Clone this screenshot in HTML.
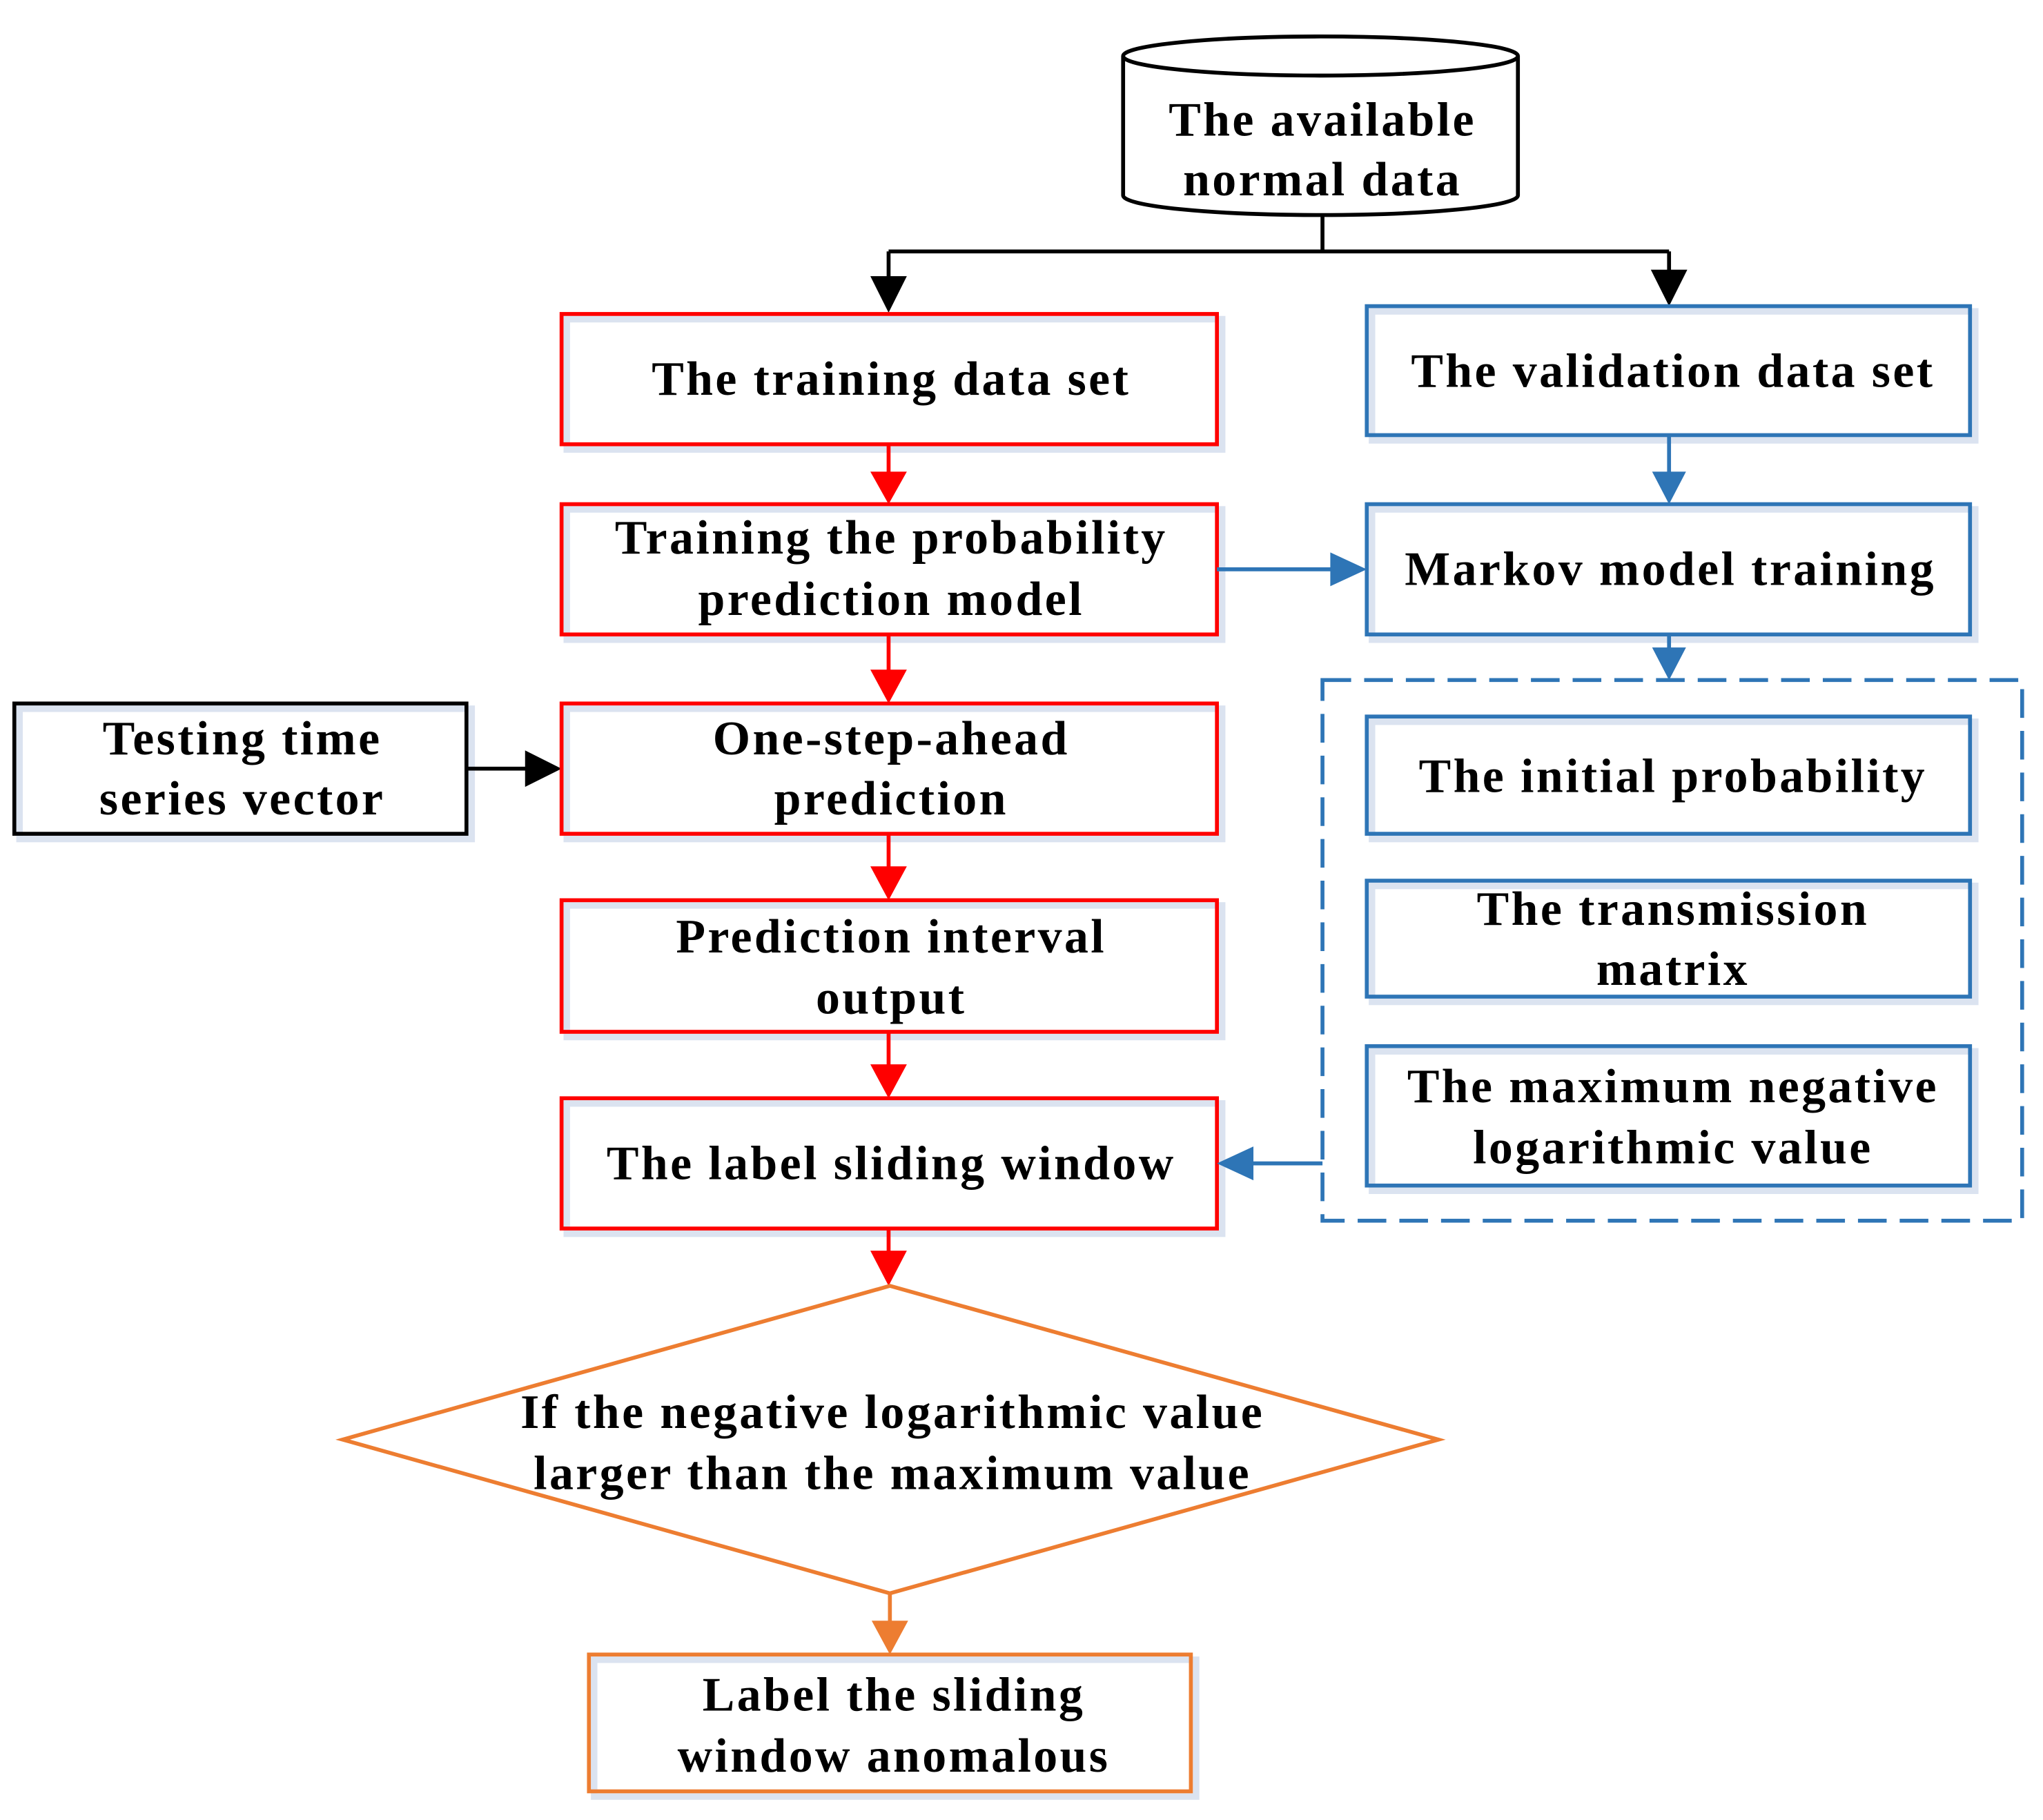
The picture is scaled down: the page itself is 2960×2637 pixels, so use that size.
<!DOCTYPE html>
<html><head><meta charset="utf-8"><style>
html,body{margin:0;padding:0;background:#fff}
svg{display:block}
text{font-family:"Liberation Serif",serif;font-weight:bold;font-size:37px;fill:#000;text-anchor:middle;letter-spacing:1.8px}
</style></head><body>
<svg width="2960" height="2637" viewBox="0 0 1568 1397" preserveAspectRatio="none" xmlns="http://www.w3.org/2000/svg">
<g fill="none" stroke-width="3">
<g stroke="#dbe3f0" stroke-width="5">
<rect x="435" y="245" width="503" height="100"/><rect x="1053" y="239" width="463" height="99"/>
<rect x="435" y="391" width="503" height="100"/><rect x="1053" y="391" width="463" height="100"/>
<rect x="435" y="544" width="503" height="100"/><rect x="15" y="544" width="347" height="100"/>
<rect x="435" y="695" width="503" height="101"/><rect x="435" y="847" width="503" height="100"/>
<rect x="1053" y="554" width="463" height="90"/><rect x="1053" y="680" width="463" height="89"/>
<rect x="1053" y="807" width="463" height="107"/><rect x="456" y="1274" width="462" height="105"/>
</g>
<path d="M862,43 L862,150 A151,15 0 0 0 1165,150 L1165,43" stroke="#000" fill="#fff"/>
<ellipse cx="1013.5" cy="43" rx="151.5" ry="15" stroke="#000" fill="#fff"/>
<path d="M1015,165 V193 M682,193 H1281 M682,193 V215 M1281,193 V210 M358,590 H410" stroke="#000"/>
<path d="M668,212 L696,212 L682,240z M1267,207 L1295,207 L1281,235z M403,576 L403,604 L431,590z" fill="#000" stroke="none"/>
<g stroke="#ff0000">
<rect x="431" y="241" width="503" height="100"/><rect x="431" y="387" width="503" height="100"/>
<rect x="431" y="540" width="503" height="100"/><rect x="431" y="691" width="503" height="101"/>
<rect x="431" y="843" width="503" height="100"/>
</g>
<rect x="11" y="540" width="347" height="100" stroke="#000"/>
<g stroke="#2e75b6">
<rect x="1049" y="235" width="463" height="99"/><rect x="1049" y="387" width="463" height="100"/>
<rect x="1049" y="550" width="463" height="90"/><rect x="1049" y="676" width="463" height="89"/>
<rect x="1049" y="803" width="463" height="107"/>
<rect x="1015" y="522" width="537" height="415" stroke-dasharray="22,10"/>
<path d="M1281,334 V365 M934,437 H1025 M1281,487 V505 M1015,893 H958"/>
</g>
<path d="M1268,362 L1294,362 L1281,387z M1021,424 L1021,450 L1049,437z M1268,497 L1294,497 L1281,522z M962,880 L962,906 L934,893z" fill="#2e75b6" stroke="none"/>
<g stroke="#ff0000"><path d="M682,341 V365 M682,487 V518 M682,640 V669 M682,792 V821 M682,943 V965"/></g>
<path d="M668,362 L696,362 L682,387z M668,514 L696,514 L682,540z M668,665 L696,665 L682,691z M668,817 L696,817 L682,843z M668,960 L696,960 L682,987z" fill="#ff0000" stroke="none"/>
<g stroke="#ed7d31">
<path d="M683,987 L1104,1105 L683,1223 L263,1105z"/>
<path d="M683,1223 V1248"/>
<rect x="452" y="1270" width="462" height="105"/>
</g>
<path d="M669,1244 L697,1244 L683,1270z" fill="#ed7d31" stroke="none"/>
</g>
<text x="1015" y="104">The available</text><text x="1015" y="150">normal data</text>
<text x="684" y="303">The training data set</text>
<text x="1284" y="297">The validation  data set</text>
<text x="684" y="425">Training the probability</text><text x="684" y="472">prediction model</text>
<text x="1282" y="449">Markov model training</text>
<text x="684" y="579">One-step-ahead</text><text x="684" y="625">prediction</text>
<text x="186" y="579">Testing time</text><text x="186" y="625">series vector</text>
<text x="684" y="731">Prediction interval</text><text x="684" y="778">output</text>
<text x="684" y="905">The label sliding window</text>
<text x="1284" y="608">The initial probability</text>
<text x="1284" y="710">The transmission</text><text x="1284" y="756">matrix</text>
<text x="1284" y="846">The maximum negative</text><text x="1284" y="893">logarithmic value</text>
<text x="685" y="1096">If the negative logarithmic value</text><text x="685" y="1143">larger than the maximum value</text>
<text x="686" y="1313">Label the sliding</text><text x="686" y="1360">window anomalous</text>
</svg>
</body></html>
